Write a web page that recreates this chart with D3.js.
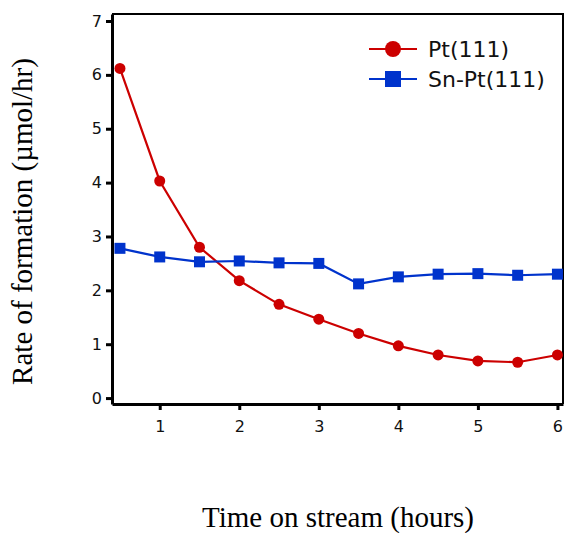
<!DOCTYPE html>
<html>
<head>
<meta charset="utf-8">
<script src="https://cdn.jsdelivr.net/npm/d3@7"></script>
<style>
  body { margin: 0; background: #fff; }
  .tick text { font-family: "DejaVu Sans", sans-serif; font-size: 16px; fill: #111; }
</style>
</head>
<body>
<script>
// time on stream (hours)
var hours = [0.5, 1, 1.5, 2, 2.5, 3, 3.5, 4, 4.5, 5, 5.5, 6];
var ptRate = [6.12, 4.03, 2.80, 2.18, 1.74, 1.465, 1.20, 0.97, 0.80, 0.69, 0.665, 0.80];
var snPtRate = [2.78, 2.62, 2.53, 2.545, 2.51, 2.50, 2.12, 2.25, 2.30, 2.31, 2.28, 2.30];
var xTicks = [1, 2, 3, 4, 5, 6];
var yTicks = [0, 1, 2, 3, 4, 5, 6, 7];
var seriesNames = ["Pt(111)", "Sn-Pt(111)"];

var width = 566, height = 533;
var margin = {top: 14, right: 3, bottom: 130, left: 112};

var xScale = d3.scaleLinear()
    .domain([0.4, 6.07])
    .range([margin.left, width - margin.right]);

var yScale = d3.scaleLinear()
    .domain([-0.11, 7.13])
    .range([height - margin.bottom + 1, margin.top]);

var svg = d3.select("body")
            .append("svg")
            .attr("width", width)
            .attr("height", height);

// frame (top + right)
svg.append("path")
   .attr("fill", "none")
   .attr("stroke", "#000")
   .attr("stroke-width", 2)
   .attr("d", "M" + xScale(0.4) + "," + yScale(7.13) + "H" + xScale(6.07) + "V" + yScale(-0.11));

// X axis
var xAxis = svg.append("g")
   .attr("transform", `translate(0, ${yScale(-0.11)})`)
   .call(d3.axisBottom(xScale).tickValues(xTicks).tickFormat(d3.format("d"))
         .tickSize(6).tickPadding(11).tickSizeOuter(0));

// Y axis
var yAxis = svg.append("g")
   .attr("transform", `translate(${xScale(0.4)}, 0)`)
   .call(d3.axisLeft(yScale).tickValues(yTicks).tickFormat(d3.format("d"))
         .tickSize(6).tickPadding(4).tickSizeOuter(0));

svg.selectAll(".domain").attr("stroke-width", 3);
svg.selectAll(".tick line").attr("stroke-width", 3);

var line = d3.line()
    .x(function(d) { return xScale(d[0]); })
    .y(function(d) { return yScale(d[1]); });

var ptData = hours.map(function(h, i) { return [h, ptRate[i]]; });
var snData = hours.map(function(h, i) { return [h, snPtRate[i]]; });

// Pt(111)
svg.append("path")
   .attr("fill", "none")
   .attr("stroke", "#cc0000")
   .attr("stroke-width", 2.2)
   .attr("d", line(ptData));

svg.selectAll(".pt")
   .data(ptData)
   .enter().append("circle")
   .attr("cx", function(d) { return xScale(d[0]); })
   .attr("cy", function(d) { return yScale(d[1]); })
   .attr("r", 5.5)
   .attr("fill", "#cc0000");

// Sn-Pt(111)
svg.append("path")
   .attr("fill", "none")
   .attr("stroke", "#0033cc")
   .attr("stroke-width", 2.2)
   .attr("d", line(snData));

svg.selectAll(".snpt")
   .data(snData)
   .enter().append("rect")
   .attr("x", function(d) { return xScale(d[0]) - 5.5; })
   .attr("y", function(d) { return yScale(d[1]) - 5.5; })
   .attr("width", 11)
   .attr("height", 11)
   .attr("fill", "#0033cc");

// legend
var legendColors = ["#cc0000", "#0033cc"];
var legend = svg.selectAll(".legend")
   .data(seriesNames)
   .enter().append("g")
   .attr("transform", function(d, i) { return `translate(369, ${49 + i * 30})`; });

legend.append("line")
   .attr("x1", 0).attr("x2", 48)
   .attr("stroke", function(d, i) { return legendColors[i]; })
   .attr("stroke-width", 2.2);

legend.each(function(d, i) {
  var g = d3.select(this);
  if (i === 0) {
    g.append("circle").attr("cx", 24).attr("r", 8).attr("fill", legendColors[i]);
  } else {
    g.append("rect").attr("x", 16).attr("y", -8).attr("width", 16).attr("height", 16).attr("fill", legendColors[i]);
  }
});

legend.append("text")
   .attr("x", 59)
   .attr("y", 7.5)
   .style("font-family", "DejaVu Sans, sans-serif")
   .style("font-size", "22px")
   .attr("fill", "#111")
   .text(function(d) { return d; });

// X label
svg.append("text")
   .attr("x", 338)
   .attr("y", 527)
   .style("text-anchor", "middle")
   .style("font-family", "Liberation Serif, serif")
   .style("font-size", "29px")
   .text("Time on stream (hours)");

// Y label
svg.append("text")
   .attr("transform", "rotate(-90)")
   .attr("x", -221.5)
   .attr("y", 32)
   .style("text-anchor", "middle")
   .style("font-family", "Liberation Serif, serif")
   .style("font-size", "29px")
   .text("Rate of formation (µmol/hr)");
</script>
</body>
</html>
